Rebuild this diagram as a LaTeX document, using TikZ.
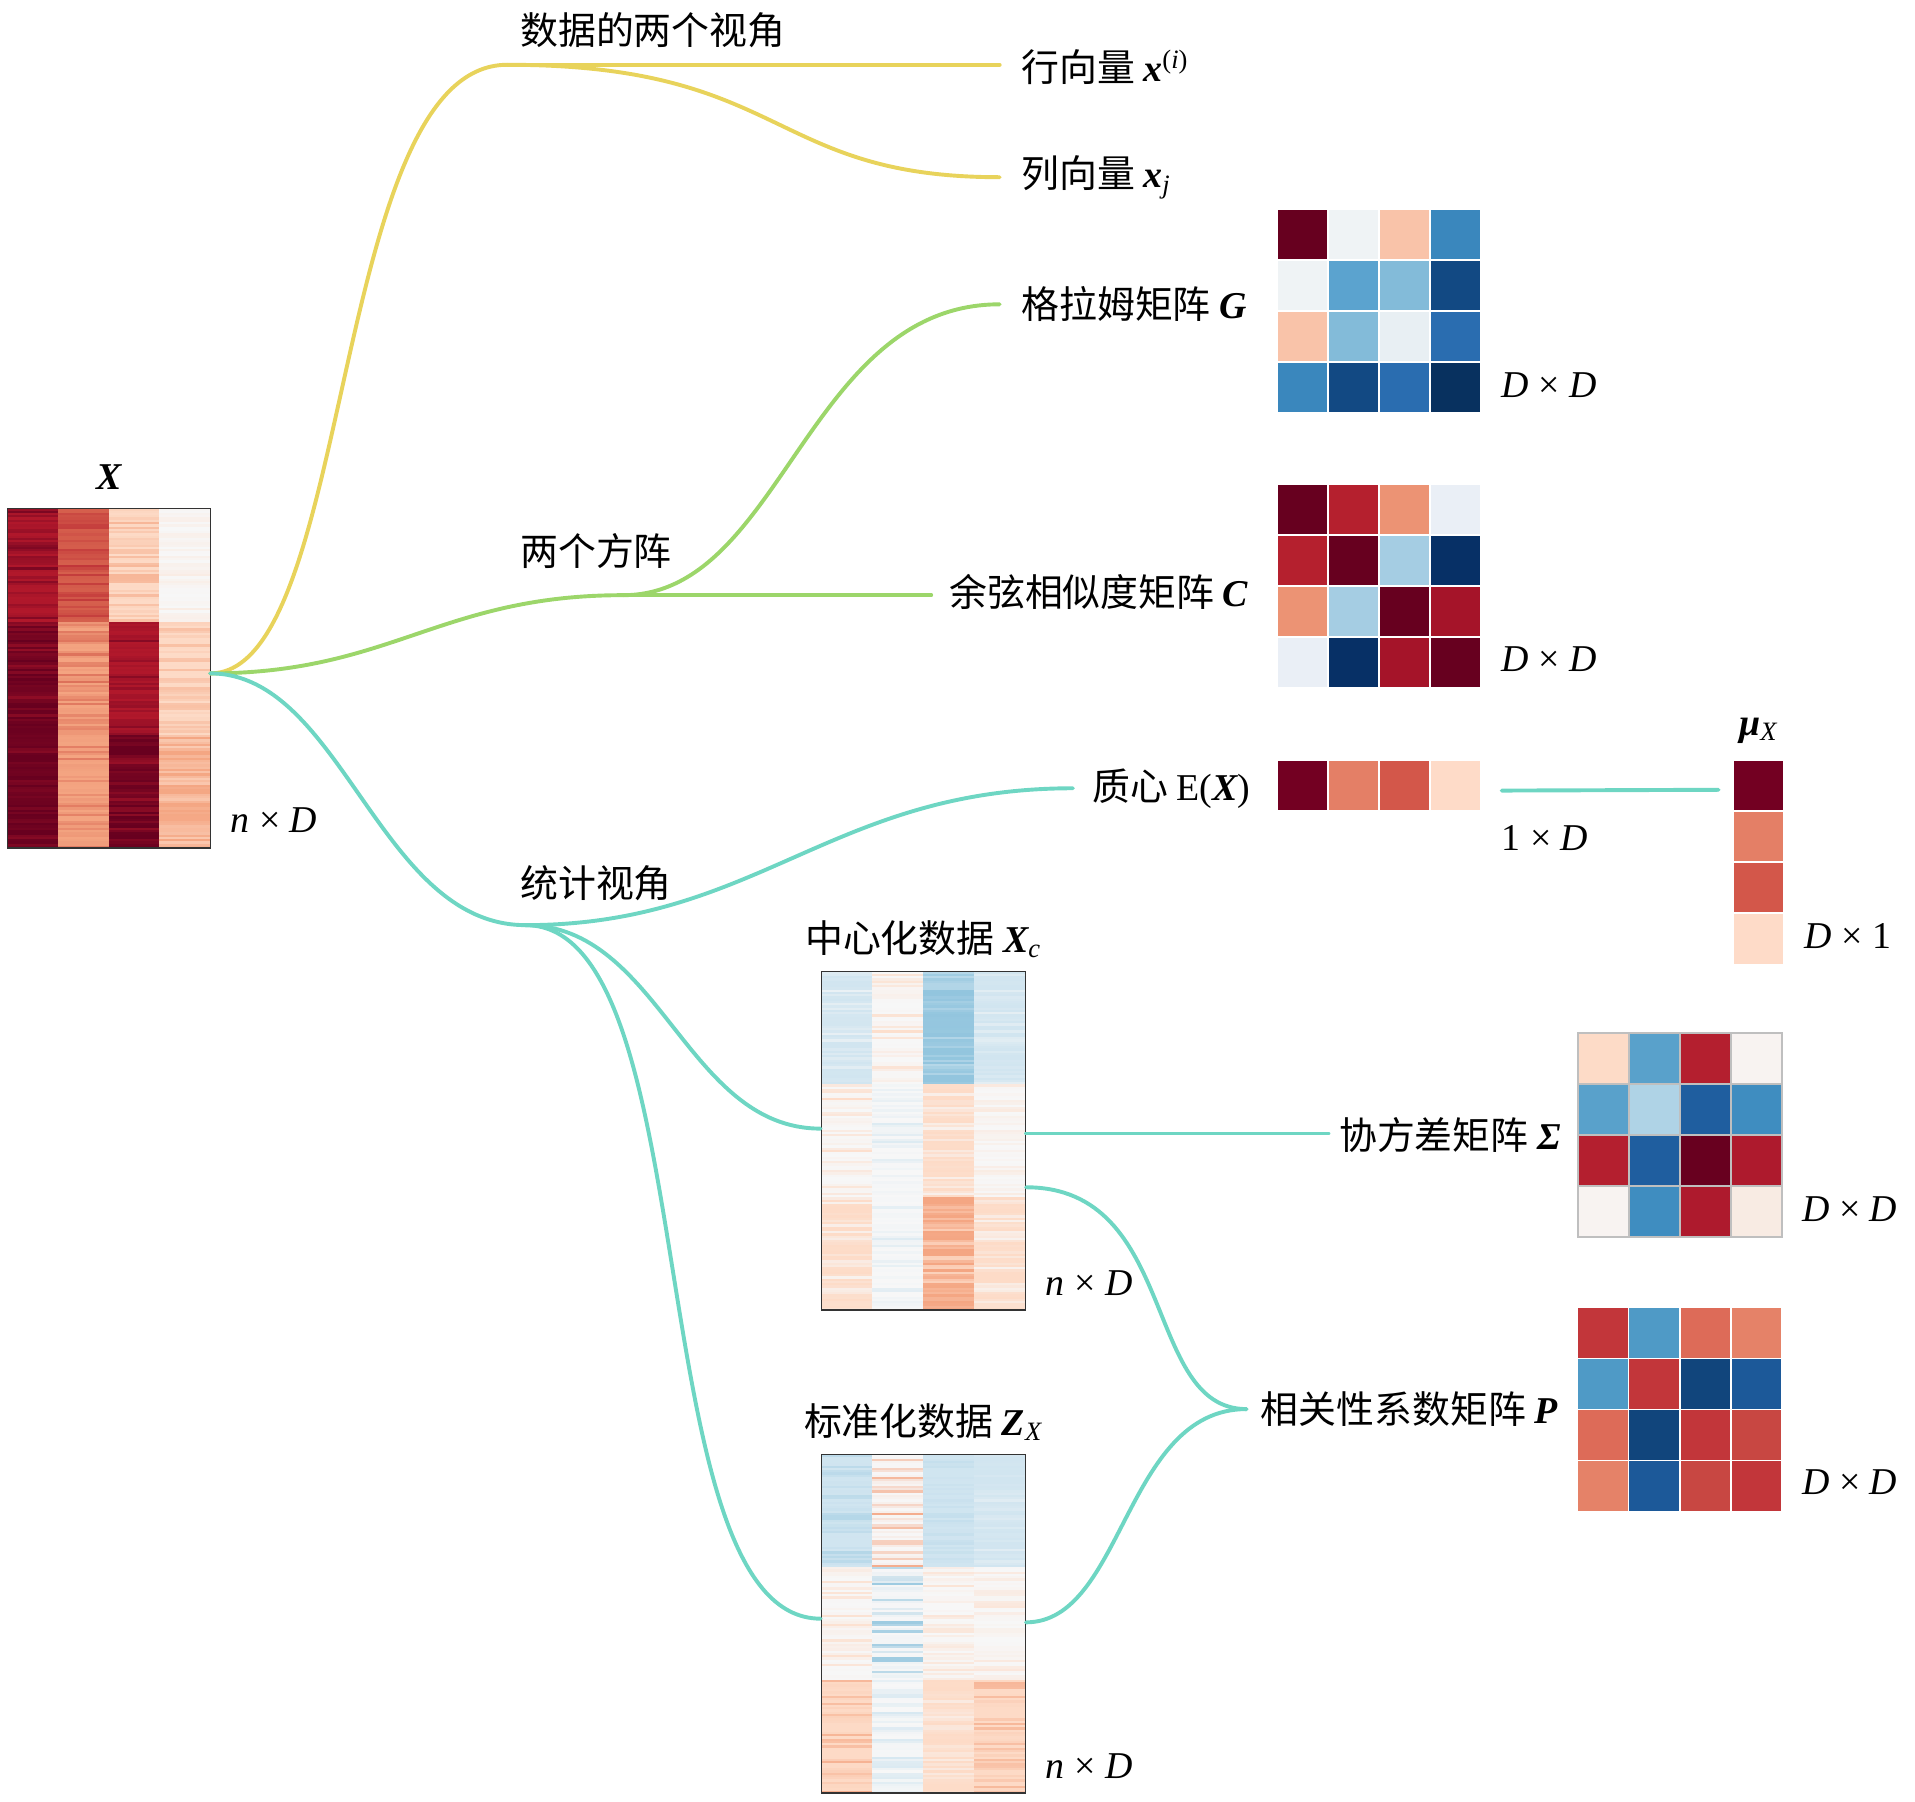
\documentclass[tikz,border=0pt]{standalone}
\usepackage{fontspec}
\setmainfont{Liberation Serif}
\newfontfamily\cjk{Noto Sans CJK SC}
\usetikzlibrary{positioning}

\newcommand\bv[1]{{\rmfamily\bfseries\itshape #1}}
\newcommand\lsub[1]{\textsubscript{\rmfamily\itshape #1}}
\newcommand\lsup[1]{\textsuperscript{\rmfamily #1}}

% RdBu palette
\definecolor{rb0}{HTML}{67001F}
\definecolor{rb1}{HTML}{B2182B}
\definecolor{rb2}{HTML}{D6604D}
\definecolor{rb3}{HTML}{F4A582}
\definecolor{rb4}{HTML}{FDDBC7}
\definecolor{rb5}{HTML}{F7F7F7}
\definecolor{rb6}{HTML}{D1E5F0}
\definecolor{rb7}{HTML}{92C5DE}
\definecolor{rb8}{HTML}{4393C3}
\definecolor{rb9}{HTML}{2166AC}
\definecolor{rb10}{HTML}{053061}
\definecolor{linkY}{HTML}{E8D35B}
\definecolor{linkG}{HTML}{9CD66A}
\definecolor{linkT}{HTML}{6ED6C3}

\tikzset{every picture/.style={line width=0.75pt}}
\tikzset{
  cn/.style={inner sep=0pt, font=\fontsize{15.5}{18}\cjk},
  dim/.style={anchor=west, inner sep=0pt, font=\fontsize{15.5}{18}\selectfont},
  ylink/.style={draw=linkY, line width=1.6pt, line cap=round},
  glink/.style={draw=linkG, line width=1.6pt, line cap=round},
  tlink/.style={draw=linkT, line width=1.6pt, line cap=round},
  heat/.style={draw=black!80, line width=0.55pt, minimum width=83pt, minimum height=139pt, inner sep=0pt},
  sq/.style={minimum width=83.5pt, minimum height=83.5pt, inner sep=0pt},
  cell/.style={draw=white, line width=0.6pt}
}

\begin{document}
\begin{tikzpicture}[x=0.5pt,y=0.5pt,yscale=-1,xscale=1]
\useasboundingbox (0,0) rectangle (1567,1474);
\pgfmathsetseed{11}

%Heatmap: data matrix X
\foreach \c/\g/\ca/\cb/\rg in {0/0/rb1/rb0/80,1/0/rb2/rb1/70,2/0/rb4/rb3/70,3/0/rb5/rb4/40,
  0/1/rb0/rb1/60,1/1/rb3/rb2/80,2/1/rb1/rb0/60,3/1/rb4/rb3/50,
  0/2/rb0/rb1/40,1/2/rb3/rb2/60,2/2/rb0/rb1/70,3/2/rb3/rb4/70}{
  \foreach \k in {0,...,49}{
    \pgfmathtruncatemacro\m{100-\rg*rnd^2}
    \fill[fill=\ca!\m!\cb] (6+\c*41.5,416+\g*92.67+\k*1.853) rectangle ++(41.5,1.95);
  }
}
\node[heat] (X) at (89,555) {};

%Heatmap: centered data Xc
\foreach \c/\g/\ca/\cb/\rg in {0/0/rb6/rb5/70,1/0/rb5/rb4/90,2/0/rb7/rb6/60,3/0/rb6/rb5/50,
  0/1/rb5/rb4/100,1/1/rb5/rb6/100,2/1/rb4/rb5/80,3/1/rb5/rb4/50,
  0/2/rb4/rb5/90,1/2/rb5/rb6/70,2/2/rb3/rb4/90,3/2/rb4/rb5/80}{
  \foreach \k in {0,...,49}{
    \pgfmathtruncatemacro\m{100-\rg*rnd^3}
    \fill[fill=\ca!\m!\cb] (672+\c*41.75,795+\g*92.33+\k*1.847) rectangle ++(41.75,1.95);
  }
}
\node[heat, minimum width=83.5pt, minimum height=138.5pt] (Xc) at (755.5,933.5) {};

%Heatmap: standardized data Zx
\foreach \c/\g/\ca/\cb/\rg in {0/0/rb6/rb7/45,1/0/rb5/rb3/90,2/0/rb6/rb7/20,3/0/rb6/rb5/40,
  0/1/rb5/rb4/90,1/1/rb5/rb7/90,2/1/rb5/rb4/70,3/1/rb5/rb4/60,
  0/2/rb4/rb3/90,1/2/rb5/rb6/90,2/2/rb4/rb5/60,3/2/rb4/rb3/70}{
  \foreach \k in {0,...,49}{
    \pgfmathtruncatemacro\m{100-\rg*rnd^3}
    \fill[fill=\ca!\m!\cb] (672+\c*41.75,1190+\g*92.33+\k*1.847) rectangle ++(41.75,1.95);
  }
}
\node[heat, minimum width=83.5pt, minimum height=138.5pt] (Zx) at (755.5,1328.5) {};

%Shape: Gram matrix G
\foreach \h [count=\k from 0] in {67001F,EFF3F5,F9C3A9,3A87BD,EFF3F5,5BA3CF,83BBD9,124983,
  F9C3A9,83BBD9,E8EFF3,2A6DB0,3A87BD,124983,2A6DB0,08315F}{
  \pgfmathtruncatemacro\ci{mod(\k,4)}
  \pgfmathtruncatemacro\ri{floor(\k/4)}
  \definecolor{cellc}{HTML}{\h}
  \filldraw[cell, fill=cellc] (1045+\ci*41.75,171+\ri*41.75) rectangle ++(41.75,41.75);
}
\node[sq] (G) at (1128.5,254.5) {};

%Shape: cosine similarity matrix C
\foreach \h [count=\k from 0] in {67001F,B5202E,EC9374,EAEFF6,B5202E,67001F,A5CDE3,073066,
  EC9374,A5CDE3,67001F,A51429,EAEFF6,073066,A51429,67001F}{
  \pgfmathtruncatemacro\ci{mod(\k,4)}
  \pgfmathtruncatemacro\ri{floor(\k/4)}
  \definecolor{cellc}{HTML}{\h}
  \filldraw[cell, fill=cellc] (1045+\ci*41.75,396+\ri*41.75) rectangle ++(41.75,41.75);
}
\node[sq] (C) at (1128.5,479.5) {};

%Shape: centroid row and column
\foreach \h [count=\k from 0] in {730022,E47F66,D3574A,FEDBC8}{
  \definecolor{cellc}{HTML}{\h}
  \filldraw[cell, fill=cellc] (1045+\k*41.75,622) rectangle ++(41.75,41.75);
  \filldraw[cell, fill=cellc] (1418,622+\k*41.75) rectangle ++(41.75,41.75);
}
\node[sq, minimum height=20.9pt] (EX) at (1128.5,642.9) {};
\node[sq, minimum width=20.9pt] (muX) at (1438.9,705.5) {};

%Shape: covariance matrix
\foreach \h [count=\k from 0] in {FDDBC7,59A1CB,B41F2F,F8F3F1,59A1CB,AFD3E6,1F5E9F,3F8DC0,
  B41F2F,1F5E9F,68001F,AE1A2D,F8F3F1,3F8DC0,AE1A2D,F8EBE3}{
  \pgfmathtruncatemacro\ci{mod(\k,4)}
  \pgfmathtruncatemacro\ri{floor(\k/4)}
  \definecolor{cellc}{HTML}{\h}
  \filldraw[cell, draw=black!25, line width=0.8pt, fill=cellc] (1291+\ci*41.75,845+\ri*41.75) rectangle ++(41.75,41.75);
}
\node[sq] (Sig) at (1374.5,928.5) {};

%Shape: correlation matrix P
\foreach \h [count=\k from 0] in {C2363A,4F9AC6,DD6B58,E58268,4F9AC6,C2363A,11457C,1C5999,
  DD6B58,11457C,C2363A,C84742,E58268,1C5999,C84742,C2363A}{
  \pgfmathtruncatemacro\ci{mod(\k,4)}
  \pgfmathtruncatemacro\ri{floor(\k/4)}
  \definecolor{cellc}{HTML}{\h}
  \filldraw[cell, fill=cellc] (1291+\ci*41.75,1070+\ri*41.75) rectangle ++(41.75,41.75);
}
\node[sq] (P) at (1374.5,1153.5) {};

% Text Node
\node[inner sep=0pt, above=7pt of X, font=\fontsize{15.5}{18}\selectfont] (tX) {\bv{X}};
\node[inner sep=0pt, above=6pt of muX, font=\fontsize{15.5}{18}\selectfont] (tMu) {\bv{μ}\lsub{X}};
\node[cn, above=5pt of Xc] (tCen) {中心化数据 \bv{X}\lsub{c}};
\node[cn, above=5pt of Zx] (tStd) {标准化数据 \bv{Z}\lsub{X}};
\node[cn, anchor=west] (tView) at (425,25) {数据的两个视角};
\node[cn, anchor=west] (tRow) at (835,55) {行向量 \bv{x}\lsup{(\textit{i})}};
\node[cn, anchor=west] (tCol) at (835,145) {列向量 \bv{x}\lsub{j}};
\node[cn, anchor=west] (tGram) at (835,249) {格拉姆矩阵 \bv{G}};
\node[cn, anchor=west] (tSquare) at (425,451) {两个方阵};
\node[cn, anchor=west] (tCos) at (776,484) {余弦相似度矩阵 \bv{C}};
\node[cn, anchor=west] (tMean) at (893,645) {质心 {\rmfamily E(\bv{X})}};
\node[cn, anchor=west] (tStat) at (425,723) {统计视角};
\node[cn, anchor=west] (tCov) at (1095,929) {协方差矩阵 \bv{Σ}};
\node[cn, anchor=west] (tCorr) at (1031,1153) {相关性系数矩阵 \bv{P}};
% Text Node
\node[dim] (dX) at (188,671) {\textit{n} × \textit{D}};
\node[dim] (dXc) at (855,1050) {\textit{n} × \textit{D}};
\node[dim] (dZx) at (855,1445) {\textit{n} × \textit{D}};
\node[dim] (dG) at (1228,315) {\textit{D} × \textit{D}};
\node[dim] (dC) at (1228,539) {\textit{D} × \textit{D}};
\node[dim] (dEX) at (1228,686) {1 × \textit{D}};
\node[dim] (dMu) at (1476,766) {\textit{D} × 1};
\node[dim] (dSig) at (1474,989) {\textit{D} × \textit{D}};
\node[dim] (dP) at (1474,1213) {\textit{D} × \textit{D}};

%Branch points
\coordinate (J) at (172,551);
\coordinate (Y1) at (415,53);
\coordinate (G1) at (510,487);
\coordinate (S) at (430,757);
\coordinate (P1) at ([xshift=-5.5pt]tCorr.west);

%Curve Lines: two views of data
\draw[ylink] (J) .. controls +(118,0) and +(-145,0) .. (Y1);
\draw[ylink] (Y1) -- ([xshift=-8.5pt]Y1 -| tRow.west);
\draw[ylink] (Y1) .. controls +(230,0) and +(-190,0) .. ([xshift=-8.5pt]tCol.west);
%Curve Lines: two square matrices
\draw[glink] (J) .. controls +(148,0) and +(-150,0) .. (G1);
\draw[glink] (G1) -- ([xshift=-7pt]G1 -| tCos.west);
\draw[glink] (G1) .. controls +(130,0) and +(-158,0) .. ([xshift=-8.5pt]tGram.west);
%Curve Lines: statistics view
\draw[tlink] (J) .. controls +(108,0) and +(-120,0) .. (S);
\draw[tlink] (S) .. controls +(190,0) and +(-198,0) .. ([xshift=-7.5pt]tMean.west);
\draw[tlink] (S) .. controls +(110,0) and +(-110,0) .. ([yshift=-5pt]Xc.west);
\draw[tlink] (S) .. controls +(150,0) and +(-150,0) .. ([yshift=-2pt]Zx.west);
\draw[tlink] ([xshift=8pt,yshift=2pt]EX.east) -- ([xshift=-5.5pt,yshift=12.5pt]muX.north west);
\draw[tlink] ([yshift=-3pt]Xc.east) -- ([xshift=-4pt,yshift=-3pt]Xc.east -| tCov.west);
\draw[tlink] ([yshift=19pt]Xc.east) .. controls +(125,0) and +(-85,0) .. (P1);
\draw[tlink] ([yshift=-0.5pt]Zx.east) .. controls +(80,0) and +(-100,0) .. (P1);

\end{tikzpicture}
\end{document}
